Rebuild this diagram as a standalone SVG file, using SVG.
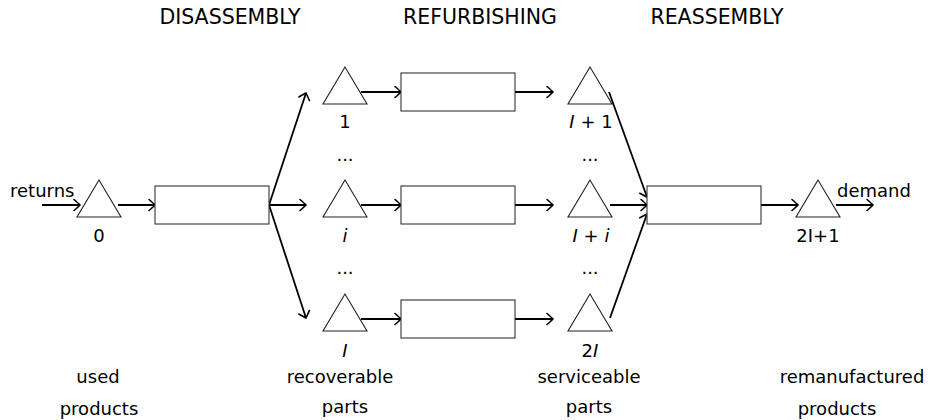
<svg xmlns="http://www.w3.org/2000/svg" width="928" height="420" viewBox="0 0 928 420">
<defs>
<marker id="to" markerUnits="userSpaceOnUse" markerWidth="14" markerHeight="14" viewBox="-10 -7 14 14" refX="0" refY="0" orient="auto">
<path d="M -6 -5.5 Q -1.5 -1.5 0 0 Q -1.5 1.5 -6 5.5" fill="none" stroke="#000" stroke-width="1.6" stroke-linecap="round"/>
</marker>
</defs>
<style>
text{font-family:"DejaVu Sans","Noto Sans",sans-serif;font-size:18px;fill:#000}
.hdr{font-size:20.5px}
.tri{fill:#fff;stroke:#222;stroke-width:1.1}
.box{fill:#fff;stroke:#333;stroke-width:1.1}
.arr{fill:none;stroke:#000;stroke-width:1.8;marker-end:url(#to)}
.mid{text-anchor:middle}
.it{font-style:italic}
</style>
<rect width="928" height="420" fill="#fff"/>
<g id="headers">
<text class="hdr mid" x="230" y="24">DISASSEMBLY</text>
<text class="hdr mid" x="480" y="24">REFURBISHING</text>
<text class="hdr mid" x="717" y="24">REASSEMBLY</text>
</g>
<g id="connectors">
<line class="arr" x1="42" y1="205" x2="80" y2="205"/>
<line class="arr" x1="118" y1="205" x2="155" y2="205"/>
<line class="arr" x1="269" y1="205" x2="306" y2="93"/>
<line class="arr" x1="269" y1="205" x2="306" y2="205"/>
<line class="arr" x1="269" y1="205" x2="306" y2="318"/>
<line class="arr" x1="361" y1="92" x2="401" y2="92"/>
<line class="arr" x1="361" y1="205" x2="401" y2="205"/>
<line class="arr" x1="361" y1="319" x2="401" y2="319"/>
<line class="arr" x1="515" y1="92" x2="553" y2="92"/>
<line class="arr" x1="515" y1="205" x2="553" y2="205"/>
<line class="arr" x1="515" y1="319" x2="553" y2="319"/>
<line class="arr" x1="609" y1="92" x2="647" y2="197"/>
<line class="arr" x1="610" y1="205" x2="647" y2="205"/>
<line class="arr" x1="610" y1="318" x2="647" y2="214"/>
<line class="arr" x1="761" y1="205" x2="798" y2="205"/>
<line class="arr" x1="836" y1="205" x2="873" y2="205"/>
</g>
<g id="n0">
<polygon class="tri" points="99,180 77,217 121,217"/>
<text class="mid" x="99" y="242">0</text>
<text x="10" y="197">returns</text>
</g>
<g id="disassembly">
<rect class="box" x="155" y="186" width="114" height="38"/>
</g>
<g id="n1">
<polygon class="tri" points="345,67 323,104 367,104"/>
<text class="mid" x="345" y="128">1</text>
</g>
<g id="ni">
<polygon class="tri" points="345,180 323,217 367,217"/>
<text class="mid it" x="345" y="242">i</text>
</g>
<g id="nI">
<polygon class="tri" points="345,294 323,331 367,331"/>
<text class="mid it" x="345" y="357">I</text>
</g>
<g id="dots-left">
<text class="mid" x="345" y="161">...</text>
<text class="mid" x="345" y="274">...</text>
</g>
<g id="refurb1"><rect class="box" x="401" y="73" width="114" height="38"/></g>
<g id="refurbi"><rect class="box" x="401" y="186" width="114" height="38"/></g>
<g id="refurbI"><rect class="box" x="401" y="300" width="114" height="38"/></g>
<g id="nI1">
<polygon class="tri" points="590,67 568,104 612,104"/>
<text class="mid" x="591" y="128"><tspan class="it">I</tspan> + 1</text>
</g>
<g id="nIi">
<polygon class="tri" points="590,180 568,217 612,217"/>
<text class="mid" x="591" y="242"><tspan class="it">I</tspan> + <tspan class="it">i</tspan></text>
</g>
<g id="n2I">
<polygon class="tri" points="590,294 568,331 612,331"/>
<text class="mid" x="590" y="357">2<tspan class="it">I</tspan></text>
</g>
<g id="dots-right">
<text class="mid" x="590" y="161">...</text>
<text class="mid" x="590" y="274">...</text>
</g>
<g id="reassembly"><rect class="box" x="647" y="186" width="114" height="38"/></g>
<g id="n2I1">
<polygon class="tri" points="818,180 796,217 840,217"/>
<text class="mid" x="818" y="242">2I+1</text>
<text x="837" y="197">demand</text>
</g>
<g id="captions">
<text class="mid" x="98" y="383">used</text>
<text class="mid" x="99" y="415">products</text>
<text class="mid" x="340" y="383">recoverable</text>
<text class="mid" x="345" y="413">parts</text>
<text class="mid" x="589" y="383">serviceable</text>
<text class="mid" x="589" y="413">parts</text>
<text class="mid" x="852" y="383">remanufactured</text>
<text class="mid" x="837" y="415">products</text>
</g>
</svg>
